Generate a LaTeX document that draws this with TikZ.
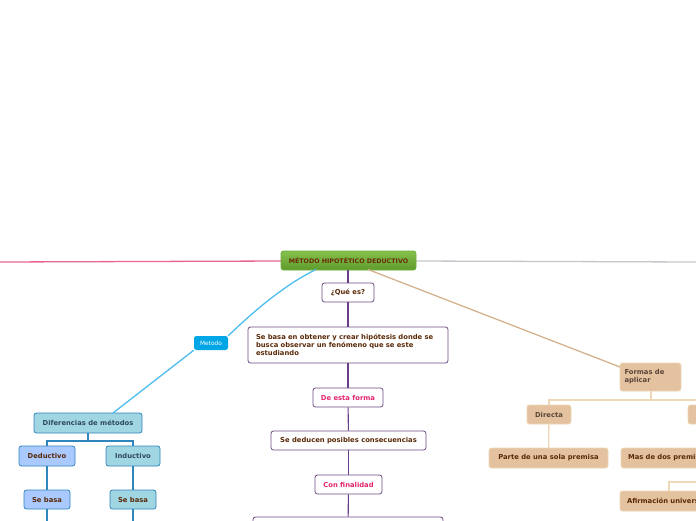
\documentclass[tikz,border=0pt]{standalone}
\usepackage{fontspec}
\setmainfont{DejaVu Sans}
\definecolor{purp}{HTML}{6E4A86}
\definecolor{purpln}{HTML}{6A3D8A}
\definecolor{brn}{HTML}{5A2A08}
\definecolor{pnk}{HTML}{E2256E}
\definecolor{skyln}{HTML}{4DBDEE}
\definecolor{metblue}{HTML}{00A6E6}
\definecolor{teal}{HTML}{A0D6E2}
\definecolor{lblue}{HTML}{A9C9FF}
\definecolor{bbord}{HTML}{2E86BC}
\definecolor{tealtxt}{HTML}{2F4A5C}
\definecolor{tan}{HTML}{E4C2A0}
\definecolor{tanln}{HTML}{D4B28E}
\definecolor{tantree}{HTML}{EED8B6}
\definecolor{tantxt}{HTML}{5A4638}
\definecolor{rootA}{HTML}{86C04C}
\definecolor{rootB}{HTML}{5E9B2C}
\definecolor{rootbd}{HTML}{6FAE3E}
\definecolor{roottxt}{HTML}{6A2A0A}
\definecolor{pinkln}{HTML}{E8668E}
\definecolor{grayln}{HTML}{C4C8CC}
\tikzset{
  bx/.style={rounded corners=2.5pt, inner sep=0pt, font=\fontsize{6.8}{8}\selectfont\bfseries, align=center},
  wbox/.style={bx, draw=purp, line width=0.8pt, fill=white, text=brn},
  pbox/.style={wbox, text=pnk},
  tbox/.style={bx, draw=bbord, line width=0.8pt, fill=teal, text=tealtxt},
  lbox/.style={bx, draw=bbord, line width=0.8pt, fill=lblue, text=brn},
  tnbox/.style={bx, draw=tantree, line width=0.8pt, fill=tan, text=brn},
  purpedge/.style={draw=purpln, line width=1.1pt},
  bluetree/.style={draw=bbord, line width=1.2pt},
  tantreeln/.style={draw=tantree, line width=1.3pt},
}
\begin{document}
\begin{tikzpicture}[x=1pt,y=-1pt]
\useasboundingbox (0,0) rectangle (696,520);
\clip (0,0) rectangle (696,520);
\fill[white] (0,0) rectangle (696,520);
% long lines
\coordinate (pl) at (0,262);
\coordinate (gr) at (696,262);
\draw[pinkln, line width=1.3pt] (pl) -- (281,261);
\draw[grayln, line width=1.3pt] (416,261) -- (gr);
% root
\node[bx, top color=rootA, bottom color=rootB, draw=rootbd, line width=0.8pt, minimum width=135pt, minimum height=19pt, text=roottxt, font=\fontsize{6.3}{7.5}\selectfont\bfseries] (root) at (348.5,260.5) {MÉTODO HIPOTÉTICO DEDUCTIVO};
% center column
\node[wbox, minimum width=200pt, minimum height=36pt, text width=184pt, align=left] (sebasa) at (348,345) {Se basa en obtener y crear hipótesis donde se\\ busca observar un fenómeno que se este\\ estudiando};
\node[wbox, minimum width=52pt, minimum height=19pt] (que) at (348,292.5) {¿Qué es?};
\node[pbox, minimum width=70pt, minimum height=19pt] (esta) at (348,397.5) {De esta forma};
\node[wbox, minimum width=155pt, minimum height=19pt] (deducen) at (348.5,440.5) {Se deducen posibles consecuencias};
\node[pbox, minimum width=67pt, minimum height=19pt] (confin) at (348.5,484.5) {Con finalidad};
\node[wbox, minimum width=190pt, minimum height=30pt] (fin) at (348,532) {};
\draw[purpedge] (root.south -| que) -- (que.north);
\draw[purpedge] (que) -- (sebasa);
\draw[purpedge] (sebasa) -- (esta);
\draw[purpedge] (esta) -- (deducen);
\draw[purpedge] (deducen) -- (confin);
\draw[purpedge] (confin) -- (fin);
% left blue branch
\node[bx, fill=metblue, text=white, minimum width=34pt, minimum height=14pt, font=\fontsize{5.9}{7}\selectfont] (metodo) at (211,343) {Metodo};
\node[tbox, minimum width=108pt, minimum height=20pt] (dif) at (88,423) {Diferencias de métodos};
\node[lbox, minimum width=56pt, minimum height=20pt] (ded) at (47,456) {Deductivo};
\node[tbox, minimum width=54pt, minimum height=20pt] (ind) at (133,456) {Inductivo};
\node[lbox, minimum width=46pt, minimum height=19pt, text=brn] (sb1) at (47,499.5) {Se basa};
\node[tbox, minimum width=46pt, minimum height=19pt, text=brn] (sb2) at (133,499.5) {Se basa};
\coordinate (rootbl) at (316,269.5);
\coordinate (rootbr) at (368,269.5);
\draw[skyln, line width=1.3pt] (rootbl) .. controls (290,282) and (260,305) .. (metodo.north east);
\draw[skyln, line width=1.3pt] (metodo.south west) -- (113,413);
\coordinate (dj) at (88,441);
\draw[bluetree] (dif.south) -- (dj) -| (ded.north);
\draw[bluetree] (dj) -| (ind.north);
\draw[bluetree] (ded) -- (sb1);
\draw[bluetree] (ind) -- (sb2);
\coordinate (e1) at (47,525);
\coordinate (e2) at (133,525);
\draw[bluetree] (sb1) -- (e1);
\draw[bluetree] (sb2) -- (e2);
% right tan branch
\node[tnbox, minimum width=61pt, minimum height=28pt, text width=52pt, align=left, text=tantxt] (formas) at (650.5,377) {Formas de\\ aplicar};
\node[tnbox, minimum width=44pt, minimum height=19pt, text=tantxt] (directa) at (549,414.5) {Directa};
\node[tnbox, minimum width=52pt, minimum height=19pt] (indir) at (714,414.5) {};
\node[tnbox, minimum width=119pt, minimum height=20pt] (parte) at (548.5,458) {Parte de una sola premisa};
\node[tnbox, minimum width=110pt, minimum height=20pt, text width=96pt, align=left] (mas) at (676,458) {Mas de dos premisas};
\node[tnbox, minimum width=112pt, minimum height=20pt, text width=98pt, align=left] (afirm) at (676,501) {Afirmación universal};
\draw[tanln, line width=1.3pt] (rootbr) -- (620,367);
\coordinate (fj) at (651,400);
\coordinate (fr) at (700,400);
\draw[tantreeln] (formas.south -| fj) -- (fj);
\draw[tantreeln] (fr) -| (directa.north);
\draw[tantreeln] (directa) -- (parte);
\coordinate (aj) at (669,482);
\coordinate (ar) at (700,482);
\draw[tantreeln] (ar) -- (aj) -- (aj |- afirm.north);
\end{tikzpicture}
\end{document}
